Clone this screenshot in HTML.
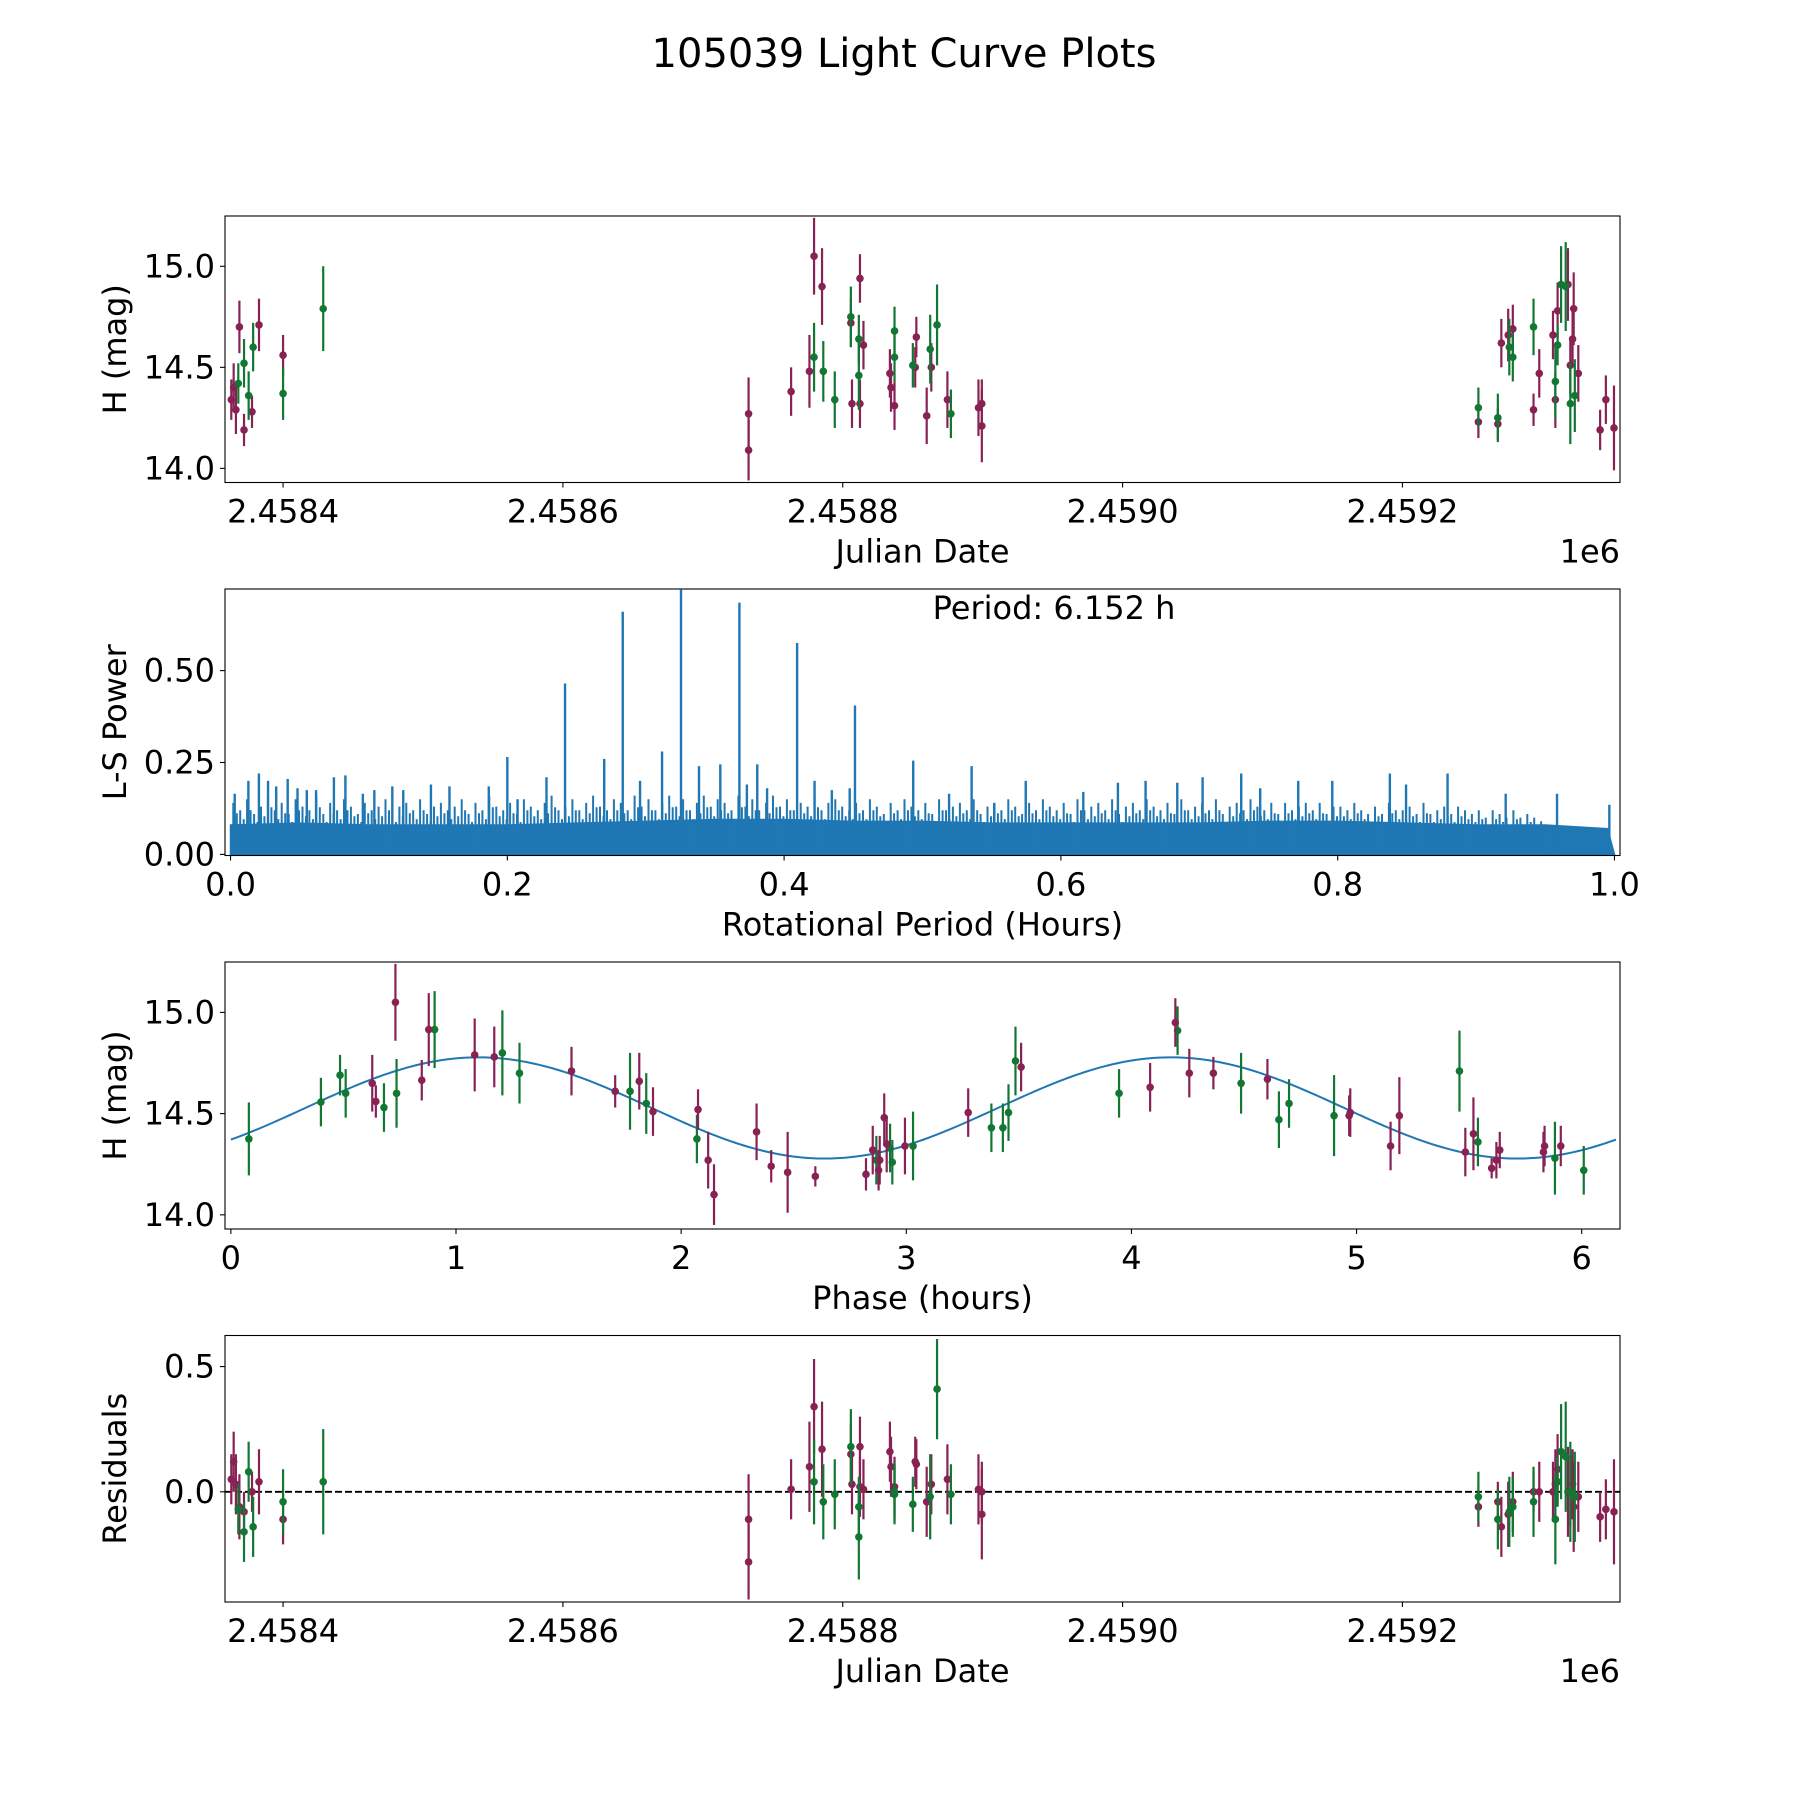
<!DOCTYPE html>
<html><head><meta charset="utf-8">
<style>
html,body{margin:0;padding:0;background:#fff;}
svg text{font-family:"DejaVu Sans","Liberation Sans",sans-serif;fill:#000;}
</style></head>
<body>
<svg id="fig" width="1800" height="1800" viewBox="0 0 1800 1800" xmlns="http://www.w3.org/2000/svg">
<rect width="1800" height="1800" fill="#fff"/>
<text x="904" y="67" font-size="40" text-anchor="middle">105039 Light Curve Plots</text>
</svg>
<script>
// ---- data: time series (days since JD 2458400) ----
const purpleJD = [-37,-35.3,-33.7,-31.2,-27.9,-22.2,-17.2,0,332.7,332.7,363.1,376.2,379.5,385.2,405.8,406.6,412.3,412.3,414.8,433.7,434.5,437,451.8,452.6,460,463.3,474.8,497,499.4,499.4,854.3,868.2,870.7,875.6,878.9,893.7,897.8,907.6,909.3,910.9,918.3,920,921.6,922.4,925.7,941.3,945.4,951.2];
const purpleMag = [14.34,14.40,14.29,14.70,14.19,14.28,14.71,14.56,14.27,14.09,14.38,14.48,15.05,14.90,14.72,14.32,14.94,14.32,14.61,14.47,14.40,14.31,14.50,14.65,14.26,14.50,14.34,14.30,14.32,14.21,14.23,14.22,14.62,14.66,14.69,14.29,14.47,14.66,14.34,14.78,14.91,14.51,14.64,14.79,14.47,14.19,14.34,14.20];
const purpleErr = [0.10,0.12,0.12,0.13,0.08,0.08,0.13,0.10,0.18,0.15,0.12,0.18,0.19,0.19,0.12,0.12,0.12,0.12,0.12,0.12,0.12,0.12,0.10,0.10,0.14,0.12,0.14,0.14,0.12,0.18,0.08,0.08,0.12,0.13,0.12,0.08,0.12,0.12,0.14,0.14,0.18,0.14,0.14,0.18,0.14,0.10,0.12,0.21];
const purpleRes = [0.05,0.12,0.03,-0.06,-0.08,0.0,0.04,-0.11,-0.11,-0.28,0.01,0.10,0.34,0.17,0.15,0.03,0.18,0.02,0.01,0.16,0.10,0.02,0.12,0.11,-0.04,0.03,0.05,0.01,0.0,-0.09,-0.06,-0.04,-0.14,-0.09,-0.04,0.0,0.0,0.0,0.03,0.09,0.0,0.0,0.03,-0.06,-0.02,-0.10,-0.07,-0.08];
const greenJD = [-32,-27.9,-24.6,-21.4,0,28.7,379.5,386.1,394.3,405.8,411.5,411.5,437,437,450.1,462.5,467.4,477.3,854.3,868.2,876.4,878.9,893.7,909.3,910.9,913.4,916.7,920,923.2];
const greenMag = [14.42,14.52,14.36,14.60,14.37,14.79,14.55,14.48,14.34,14.75,14.46,14.64,14.68,14.55,14.51,14.59,14.71,14.27,14.30,14.25,14.60,14.55,14.70,14.43,14.61,14.91,14.90,14.32,14.36];
const greenErr = [0.10,0.12,0.12,0.12,0.13,0.21,0.17,0.15,0.14,0.15,0.17,0.12,0.12,0.12,0.11,0.17,0.20,0.12,0.10,0.12,0.14,0.12,0.14,0.18,0.10,0.19,0.22,0.20,0.18];
const greenRes = [-0.07,-0.16,0.08,-0.14,-0.04,0.04,0.04,-0.04,-0.01,0.18,-0.18,-0.06,-0.01,0.0,-0.05,-0.02,0.41,-0.01,-0.02,-0.11,-0.08,-0.06,-0.04,-0.11,0.04,0.16,0.14,0.0,-0.02];
// ---- data: phased light curve ----
const greenPhase = [0.08,0.40,0.485,0.51,0.68,0.736,0.905,1.206,1.282,1.773,1.845,2.07,2.867,2.928,2.938,3.03,3.378,3.429,3.454,3.485,3.945,4.205,4.487,4.655,4.70,4.90,5.457,5.539,5.881,6.009];
const greenPhaseMag = [14.375,14.557,14.69,14.60,14.53,14.60,14.915,14.80,14.70,14.61,14.55,14.375,14.27,14.33,14.26,14.34,14.43,14.43,14.505,14.76,14.60,14.91,14.65,14.47,14.55,14.49,14.71,14.36,14.28,14.22];
const greenPhaseErr = [0.18,0.12,0.10,0.12,0.12,0.17,0.19,0.21,0.15,0.19,0.15,0.12,0.12,0.12,0.11,0.17,0.12,0.12,0.14,0.17,0.12,0.12,0.15,0.14,0.12,0.20,0.20,0.12,0.18,0.12];
const purplePhase = [0.628,0.644,0.731,0.848,0.879,1.083,1.17,1.513,1.707,1.814,1.875,2.075,2.12,2.146,2.335,2.40,2.473,2.596,2.821,2.851,2.877,2.882,2.902,2.913,2.994,3.275,3.51,4.083,4.195,4.257,4.364,4.604,4.967,4.972,5.151,5.19,5.483,5.519,5.60,5.621,5.636,5.83,5.835,5.907];
const purplePhaseMag = [14.65,14.56,15.05,14.665,14.915,14.79,14.78,14.71,14.61,14.66,14.51,14.52,14.27,14.10,14.41,14.24,14.21,14.19,14.20,14.32,14.22,14.27,14.48,14.35,14.34,14.505,14.73,14.63,14.95,14.70,14.70,14.67,14.49,14.505,14.34,14.49,14.31,14.40,14.23,14.27,14.32,14.31,14.34,14.34];
const purplePhaseErr = [0.14,0.08,0.19,0.10,0.18,0.18,0.15,0.12,0.08,0.14,0.12,0.10,0.14,0.15,0.14,0.08,0.20,0.05,0.08,0.12,0.10,0.12,0.12,0.14,0.14,0.12,0.12,0.12,0.12,0.12,0.08,0.10,0.10,0.12,0.12,0.19,0.12,0.18,0.05,0.09,0.09,0.10,0.10,0.10];
// model (double-peaked sinusoid, period 6.152 h)
const modelMean = [14.528];
const modelAmp = [0.25];
const modelPeak = [1.1];
const period = [6.152];
// ---- data: periodogram ----
const spikePeriod = [0.003,0.0129,0.0205,0.0271,0.033,0.0413,0.0484,0.0551,0.0618,0.0747,0.083,0.0956,0.1039,0.1169,0.1248,0.1448,0.1582,0.1866,0.2,0.2074,0.2283,0.2417,0.27,0.2834,0.2959,0.3118,0.3255,0.3385,0.3539,0.3677,0.3731,0.3806,0.3877,0.4094,0.422,0.4345,0.4474,0.4512,0.4933,0.5192,0.5355,0.5518,0.5746,0.6162,0.6412,0.6612,0.6841,0.7024,0.7303,0.744,0.7715,0.7961,0.8377,0.8494,0.8794,0.9214,0.9585,0.9963];
const spikePower = [0.165,0.20,0.22,0.20,0.185,0.205,0.18,0.175,0.175,0.21,0.215,0.165,0.175,0.185,0.175,0.19,0.185,0.185,0.265,0.15,0.21,0.465,0.26,0.66,0.20,0.28,0.72,0.24,0.245,0.685,0.19,0.245,0.18,0.575,0.20,0.175,0.18,0.405,0.255,0.165,0.24,0.14,0.2,0.17,0.195,0.2,0.195,0.21,0.22,0.18,0.2,0.2,0.22,0.19,0.22,0.165,0.165,0.135];
// minor peaks every 0.005 h (dense noise envelope)
const minorPower = [0.14,0.12,0.15,0.11,0.13,0.16,0.12,0.14,0.11,0.15,0.13,0.12,0.16,0.11,0.14,0.12,0.15,0.13,0.11,0.14,0.12,0.13,0.15,0.11,0.13,0.14,0.12,0.15,0.11,0.13,
 0.14,0.12,0.13,0.15,0.11,0.14,0.12,0.16,0.13,0.12,0.14,0.11,0.15,0.13,0.12,0.14,0.16,0.12,0.13,0.15,0.12,0.14,0.16,0.13,0.12,0.15,0.14,0.12,0.16,0.13,
 0.15,0.12,0.14,0.16,0.13,0.15,0.12,0.14,0.16,0.13,0.15,0.14,0.12,0.16,0.13,0.15,0.12,0.14,0.16,0.13,0.15,0.12,0.14,0.13,0.16,0.12,0.14,0.15,0.13,0.12,
 0.14,0.12,0.15,0.13,0.11,0.14,0.12,0.15,0.13,0.12,0.14,0.11,0.15,0.12,0.13,0.14,0.12,0.15,0.11,0.13,0.14,0.12,0.15,0.13,0.11,0.14,0.12,0.15,0.13,0.12,
 0.14,0.11,0.15,0.12,0.13,0.14,0.12,0.15,0.11,0.13,0.14,0.12,0.15,0.13,0.12,0.14,0.11,0.15,0.12,0.13,0.14,0.12,0.15,0.11,0.13,0.14,0.12,0.15,0.13,0.12,
 0.14,0.11,0.14,0.12,0.13,0.14,0.12,0.14,0.11,0.13,0.13,0.12,0.14,0.12,0.11,0.13,0.11,0.14,0.12,0.12,0.13,0.11,0.14,0.11,0.12,0.13,0.11,0.13,0.12,0.11,
 0.12,0.10,0.12,0.11,0.10,0.12,0.10,0.11,0.10,0.09];
const basePeriod = [0,0.05,0.1,0.15,0.2,0.25,0.3,0.35,0.4,0.45,0.5,0.55,0.6,0.65,0.7,0.75,0.8,0.85,0.9,0.95,0.995,1.0];
const basePower = [0.08,0.085,0.08,0.08,0.08,0.085,0.09,0.095,0.095,0.09,0.09,0.085,0.085,0.085,0.085,0.09,0.09,0.085,0.08,0.08,0.07,0.0];
const tickJD = [2.4584,2.4586,2.4588,2.4590,2.4592];

const svg = document.getElementById('fig');
const NS = 'http://www.w3.org/2000/svg';
const PUR = '#882255', GRN = '#117733', BLUE = '#1f77b4';
const FS = 32;
function mk(tag, attrs, parent){
  const e = document.createElementNS(NS, tag);
  for (const k in attrs) e.setAttribute(k, attrs[k]);
  (parent||svg).appendChild(e);
  return e;
}
const L = 225, R = 1620;
function axes(top, bot, xmin, xmax, ymin, ymax){
  return {top, bot,
    x: v => L + (v - xmin) / (xmax - xmin) * (R - L),
    y: v => bot - (v - ymin) / (ymax - ymin) * (bot - top)};
}
function frame(ax, name){
  const r = mk('rect', {x:L, y:ax.top, width:R-L, height:ax.bot-ax.top, fill:'none', stroke:'#000', 'stroke-width':1.1});
  
  
}
function yticks(ax, vals, fmt, name){
  vals.forEach(v => {
    const y = ax.y(v);
    const t = mk('line', {x1:L-5, x2:L, y1:y, y2:y, stroke:'#000', 'stroke-width':1.1});
    
    
    const tx = mk('text', {x:L-10, y:y+11, 'font-size':FS, 'text-anchor':'end'});
    tx.textContent = fmt(v);
    
    
  });
}
function xticks(ax, vals, labels, pos, name){
  vals.forEach((v, i) => {
    const x = pos(v);
    const t = mk('line', {x1:x, x2:x, y1:ax.bot, y2:ax.bot+5, stroke:'#000', 'stroke-width':1.1});
    
    
    const tx = mk('text', {x:x, y:ax.bot+40, 'font-size':FS, 'text-anchor':'middle'});
    tx.textContent = labels[i];
    
    
  });
}
function labels(ax, xl, yl, name, offset){
  const c = (ax.top + ax.bot) / 2;
  const a = mk('text', {x:(L+R)/2, y:ax.bot+80, 'font-size':FS, 'text-anchor':'middle'});
  a.textContent = xl;
  
  
  const b = mk('text', {x:0, y:0, 'font-size':FS, 'text-anchor':'middle', transform:'translate(' + 126 + ',' + c + ') rotate(-90)'});
  b.textContent = yl;
  
  
  if (offset){
    const o = mk('text', {x:R, y:ax.bot+80, 'font-size':FS, 'text-anchor':'end'});
    o.textContent = '1e6';
    
    
  }
}
function points(ax, xs, ys, errs, color, name){
  const g = mk('g', {});
  
  
  xs.forEach((xv, i) => {
    const x = ax.x(xv);
    const e = mk('line', {x1:x, x2:x, y1:ax.y(ys[i]-errs[i]), y2:ax.y(ys[i]+errs[i]), stroke:color, 'stroke-width':2.2}, g);
    
    
    const c = mk('circle', {cx:x, cy:ax.y(ys[i]), r:3.8, fill:color}, g);
    
    
  });
}

// ---- Panel 1 ----
const ax1 = axes(216, 482.5, -41.5, 955.5, 13.93, 15.249);
const jdToOff = v => (v - 2.4584) * 1e6;
points(ax1, purpleJD, purpleMag, purpleErr, PUR, 'purple-observations');
points(ax1, greenJD, greenMag, greenErr, GRN, 'green-observations');
frame(ax1, 'lightcurve');
yticks(ax1, [14.0, 14.5, 15.0], v => v.toFixed(1), 'lightcurve');
xticks(ax1, tickJD, tickJD.map(v => v.toFixed(4)), v => ax1.x(jdToOff(v)), 'lightcurve');
labels(ax1, 'Julian Date', 'H (mag)', 'lightcurve', true);

// ---- Panel 2 ----
const ax2 = axes(589, 855.5, -0.004, 1.004, -0.003, 0.722);
let d = 'M' + ax2.x(basePeriod[0]) + ',' + ax2.y(0);
basePeriod.forEach((p, i) => { d += ' L' + ax2.x(p) + ',' + ax2.y(basePower[i]); });
d += ' L' + ax2.x(1) + ',' + ax2.y(0) + ' Z';
const fillP = mk('path', {d:d, fill:BLUE, stroke:BLUE, 'stroke-width':1.5});


let md2 = '';
minorPower.forEach((p, i) => {
  const x = ax2.x(0.002 + i * 0.005);
  const x2 = ax2.x(0.002 + i * 0.005 + 0.0025);
  md2 += 'M' + x.toFixed(1) + ',' + ax2.y(0).toFixed(1) + ' L' + x.toFixed(1) + ',' + ax2.y(p).toFixed(1) + ' ';
  md2 += 'M' + x2.toFixed(1) + ',' + ax2.y(0).toFixed(1) + ' L' + x2.toFixed(1) + ',' + ax2.y(p * 0.8).toFixed(1) + ' ';
});
const minor = mk('path', {d:md2, fill:'none', stroke:BLUE, 'stroke-width':2});


spikePeriod.forEach((p, i) => {
  const x = ax2.x(p);
  const s = mk('line', {x1:x, x2:x, y1:ax2.y(0), y2:ax2.y(spikePower[i]), stroke:BLUE, 'stroke-width':2.4});
  
  
});
frame(ax2, 'periodogram');
yticks(ax2, [0, 0.25, 0.5], v => v.toFixed(2), 'periodogram');
const pt = [0, 0.2, 0.4, 0.6, 0.8, 1.0];
xticks(ax2, pt, pt.map(v => v.toFixed(1)), v => ax2.x(v), 'periodogram');
labels(ax2, 'Rotational Period (Hours)', 'L-S Power', 'periodogram', false);
const per = mk('text', {x:1054, y:619, 'font-size':FS, 'text-anchor':'middle'});
per.textContent = 'Period: ' + period[0].toFixed(3) + ' h';



// ---- Panel 3 ----
const ax3 = axes(962, 1229, -0.026, 6.17, 13.93, 15.249);
let md = '';
for (let k = 0; k <= 300; k++){
  const t = period[0] * k / 300;
  const m = modelMean[0] + modelAmp[0] * Math.cos(4 * Math.PI * (t - modelPeak[0]) / period[0]);
  md += (k ? ' L' : 'M') + ax3.x(t).toFixed(2) + ',' + ax3.y(m).toFixed(2);
}
const model = mk('path', {d:md, fill:'none', stroke:BLUE, 'stroke-width':2});


points(ax3, greenPhase, greenPhaseMag, greenPhaseErr, GRN, 'green-phased');
points(ax3, purplePhase, purplePhaseMag, purplePhaseErr, PUR, 'purple-phased');
frame(ax3, 'phase');
yticks(ax3, [14.0, 14.5, 15.0], v => v.toFixed(1), 'phase');
const ph = [0,1,2,3,4,5,6];
xticks(ax3, ph, ph.map(String), v => ax3.x(v), 'phase');
labels(ax3, 'Phase (hours)', 'H (mag)', 'phase', false);

// ---- Panel 4 ----
const ax4 = axes(1335.5, 1602, -41.5, 955.5, -0.44, 0.624);
const zl = mk('line', {x1:L, x2:R, y1:ax4.y(0), y2:ax4.y(0), stroke:'#000', 'stroke-width':1.8, 'stroke-dasharray':'7,3'});


points(ax4, purpleJD, purpleRes, purpleErr, PUR, 'purple-residuals');
points(ax4, greenJD, greenRes, greenErr, GRN, 'green-residuals');
frame(ax4, 'residuals');
yticks(ax4, [0.0, 0.5], v => v.toFixed(1), 'residuals');
xticks(ax4, tickJD, tickJD.map(v => v.toFixed(4)), v => ax4.x(jdToOff(v)), 'residuals');
labels(ax4, 'Julian Date', 'Residuals', 'residuals', true);
</script>
</body></html>
